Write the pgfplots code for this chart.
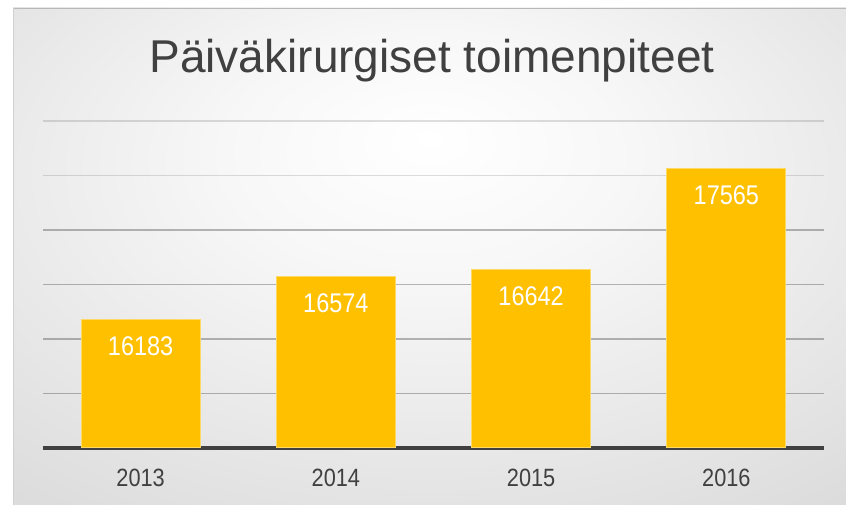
\documentclass[border=0pt]{standalone}
\usepackage{pgfplots}
\pgfplotsset{compat=1.18}
\usepackage{fontspec}
\setmainfont{Liberation Sans}
\newfontfamily\narrowfont{Liberation Sans}[FakeStretch=0.87]
\definecolor{bargold}{HTML}{FFC000}
\definecolor{baredge}{HTML}{FFD966}
\definecolor{darktxt}{HTML}{404040}
\pgfdeclareradialshading{bgshade}{\pgfpoint{0bp}{12bp}}{%
  color(0bp)=(white);
  color(12bp)=(white!97!black);
  color(35bp)=(white!88!black);
  color(60bp)=(white!78!black);
  color(80bp)=(white!76!black)}
\begin{document}
\begin{tikzpicture}[x=1pt,y=1pt]
\useasboundingbox (0,0) rectangle (846,505);
\fill[white] (0,0) rectangle (846,505);
\path[shading=bgshade] (13,0) rectangle (846,497);
\draw[black!28, line width=1.5pt] (13,496.5) -- (846,496.5);
\draw[black!18, line width=1pt] (13.5,0) -- (13.5,497);
\node[anchor=base, text=darktxt, font=\fontsize{46}{55}\selectfont] at (432,432) {Päiväkirurgiset toimenpiteet};
\begin{axis}[
  at={(43pt,57pt)}, anchor=south west,
  scale only axis, width=781pt, height=327pt,
  xmin=-0.5, xmax=3.5, ymin=15000, ymax=18000,
  scaled y ticks=false,
  ytick={17500,18000},
  yticklabels={},
  extra y ticks={15500,16000,16500,17000},
  extra y tick labels={},
  extra y tick style={ymajorgrids=true, major grid style={black, opacity=0.27, line width=1.6pt}},
  ymajorgrids,
  major grid style={black, opacity=0.13, line width=1.6pt},
  xtick={0,1,2,3}, xticklabels={2013,2014,2015,2016},
  major tick length=0pt,
  axis x line*=bottom, axis y line*=left,
  y axis line style={draw=none},
  x axis line style={darktxt, line width=4pt, -},
  xticklabel style={anchor=center, yshift=-30pt, text=darktxt, font=\narrowfont\fontsize{25}{30}\selectfont},
  /pgf/number format/1000 sep={},
  /pgf/number format/assume math mode=true,
  clip=false,
]
\addplot[ybar, bar width=119pt, fill=bargold, draw=baredge, line width=1pt,
  nodes near coords,
  nodes near coords style={anchor=center, yshift=-27pt, text=white, font=\narrowfont\fontsize{27}{32}\selectfont}]
  coordinates {(0,16183) (1,16574) (2,16642) (3,17565)};
\end{axis}
\end{tikzpicture}
\end{document}
